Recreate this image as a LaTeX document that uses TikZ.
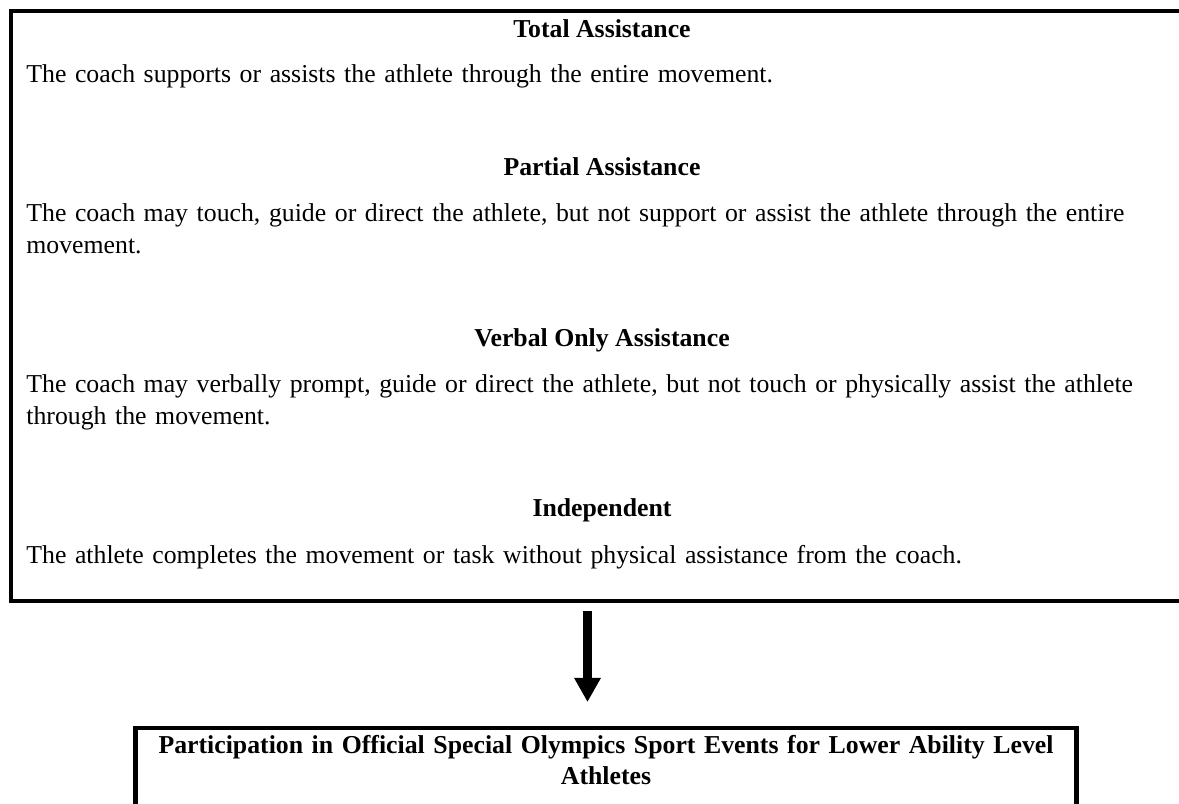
\documentclass[tikz,border=0pt]{standalone}
\usepackage{fontspec}
\setmainfont{Liberation Serif}
\usetikzlibrary{arrows.meta}
\begin{document}
\begin{tikzpicture}[x=0.5315pt, y=-0.5315pt,
  frame/.style={draw, line width=2.4pt, rectangle, inner sep=0pt, outer sep=0pt},
  head/.style={font=\bfseries\fontsize{13.7}{16.5}\selectfont, inner sep=0pt, anchor=base},
  body/.style={font=\fontsize{13.7}{16.5}\selectfont, inner sep=0pt, anchor=base west, text width=620pt, align=left},
  foot/.style={font=\bfseries\fontsize{13.7}{16.5}\selectfont, inner sep=0pt, anchor=base, text width=560pt, align=center},
  bigarrow/.style={line width=4.8pt, -{Triangle[width=13.3pt,length=12.8pt]}}]
\useasboundingbox (0,0) rectangle (1179,804);
\clip (0,0) rectangle (1179,804);
% top frame (right side runs past the page)
\node[frame, anchor=north west, minimum width=640pt, minimum height=313.6pt] (topbox) at (11,11) {};
\node[head] (h1) at (602,38) {Total Assistance};
\node[body] (t1) at (26,83) {The coach supports or assists the athlete through the entire movement.};
\node[head] (h2) at (602,176) {Partial Assistance};
\node[body] (t2) at (26,222) {The coach may touch, guide or direct the athlete, but not support or assist the athlete through the entire\\movement.};
\node[head] (h3) at (602,347) {Verbal Only Assistance};
\node[body] (t3) at (26,393) {The coach may verbally prompt, guide or direct the athlete, but not touch or physically assist the athlete\\through the movement.};
\node[head] (h4) at (602,517) {Independent};
\node[body] (t4) at (26,564) {The athlete completes the movement or task without physical assistance from the coach.};
% bottom frame (lower side runs past the page)
\node[frame, anchor=north, minimum width=500pt, minimum height=60pt] (botbox) at (606,728) {};
\node[foot] (f1) at (606,753) {Participation in Official Special Olympics Sport Events for Lower Ability Level\\Athletes};
% arrow
\draw[bigarrow] ([yshift=-5.3pt]topbox.south -| 587.5,0) -- ([yshift=13.8pt]botbox.north -| 587.5,0);
\end{tikzpicture}
\end{document}
